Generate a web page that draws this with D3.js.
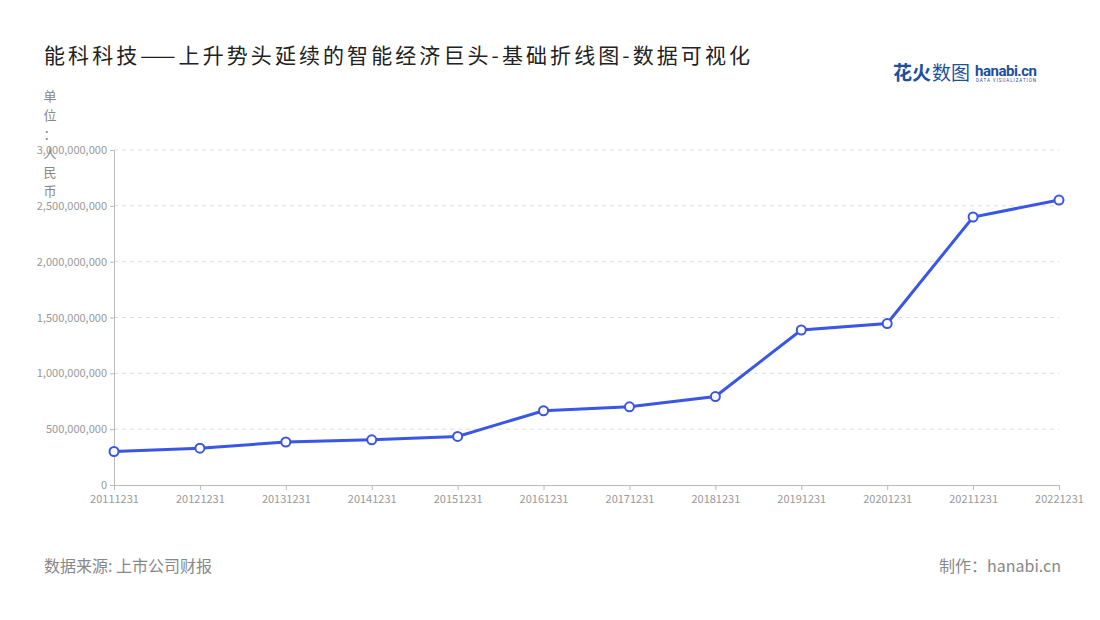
<!DOCTYPE html>
<html><head><meta charset="utf-8">
<script src="https://cdn.jsdelivr.net/npm/d3@7"></script>
<style>body{margin:0;background:#fff;font-family:"Noto Sans CJK SC","Noto Sans",sans-serif}</style>
</head><body><svg id="c" width="1100" height="620"></svg>
<script>
const categories=["20111231","20121231","20131231","20141231","20151231","20161231","20171231","20181231","20191231","20201231","20211231","20221231"];
const values=[300e6,330e6,385e6,405e6,435e6,665e6,700e6,792e6,1388e6,1446e6,2400e6,2552e6];
const yTicks=[0,500e6,1000e6,1500e6,2000e6,2500e6,3000e6];
const svg=d3.select("#c");
const F='"Noto Sans CJK SC","Noto Sans",sans-serif';
svg.append("text").attr("x",44).attr("y",63).attr("font-size",21).attr("fill","#222").attr("font-family",F).attr("textLength",706).attr("lengthAdjust","spacing").text("能科科技——上升势头延续的智能经济巨头-基础折线图-数据可视化");
const lg=svg.append("g");
lg.append("text").attr("x",893).attr("y",80).attr("font-size",19).attr("font-weight","bold").attr("fill","#1d4f9c").attr("font-family",F).text("花火");
lg.append("text").attr("x",932).attr("y",80).attr("font-size",19).attr("fill","#1d4f9c").attr("font-family",F).text("数图");
lg.append("text").attr("x",975).attr("y",76).attr("font-size",15).attr("font-weight","bold").attr("fill","#1d4f9c").attr("font-family","Roboto").attr("textLength",62).text("hanabi.cn");
lg.append("text").attr("x",976).attr("y",82).attr("font-size",4.5).attr("fill","#1d4f9c").attr("font-family","Roboto").attr("textLength",60).text("DATA VISUALIZATION");
const x=d3.scalePoint().domain(categories).range([114,1059]);
const y=d3.scaleLinear().domain([0,3e9]).range([485,150]);
const g=svg.append("g");
yTicks.forEach(t=>{ if(t>0) g.append("line").attr("x1",114).attr("x2",1059).attr("y1",y(t)).attr("y2",y(t)).attr("stroke","#ddd").attr("stroke-dasharray","4,4");});
const ya=svg.append("g").attr("transform","translate(114,0)").call(d3.axisLeft(y).tickValues(yTicks).tickFormat(d3.format(",")).tickSize(4));
ya.selectAll("text").attr("font-size",11).attr("fill","#999").attr("font-family",F);
ya.selectAll("line,path").attr("stroke","#bbb");
const xa=svg.append("g").attr("transform","translate(0,485)").call(d3.axisBottom(x).tickSize(5).tickSizeOuter(0));
xa.selectAll("text").attr("font-size",11).attr("fill","#999").attr("font-family",F).attr("dy","0.9em");
xa.selectAll("line,path").attr("stroke","#bbb");
"单位：人民币".split("").forEach((c,i)=>svg.append("text").attr("x",50).attr("y",101+i*19).attr("text-anchor","middle").attr("font-size",13).attr("fill","#888").attr("font-family",F).text(c));
svg.append("path").datum(values).attr("fill","none").attr("stroke","#3a56e4").attr("stroke-width",3)
 .attr("d",d3.line().x((d,i)=>x(categories[i])).y(d=>y(d)));
svg.selectAll("circle.p").data(values).join("circle").attr("cx",(d,i)=>x(categories[i])).attr("cy",d=>y(d)).attr("r",4.5).attr("fill","#fff").attr("stroke","#3a56e4").attr("stroke-width",2);
svg.append("text").attr("x",44).attr("y",572).attr("font-size",16).attr("fill","#888").attr("font-family",F).text("数据来源: 上市公司财报");
svg.append("text").attr("x",1061).attr("y",572).attr("text-anchor","end").attr("font-size",16).attr("fill","#888").attr("font-family",F).text("制作：hanabi.cn");
</script></body></html>
